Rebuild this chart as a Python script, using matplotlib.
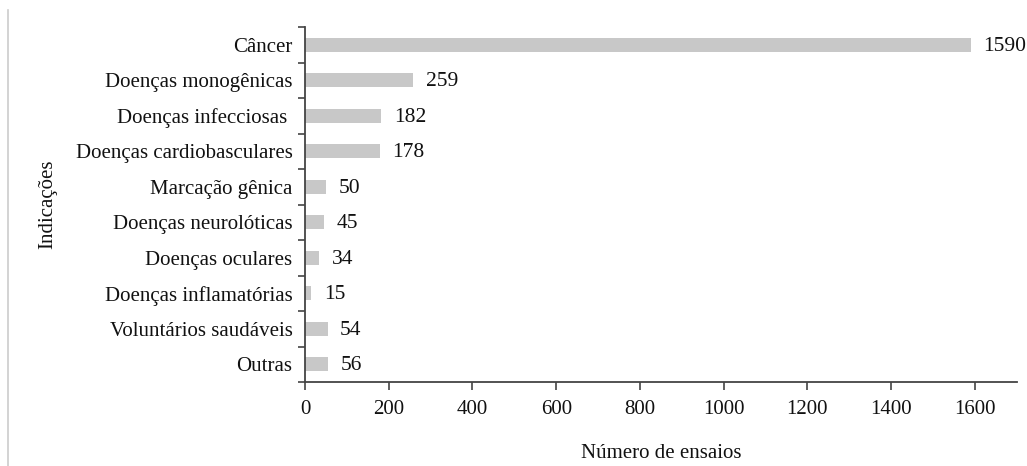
import matplotlib.pyplot as plt
import numpy as np
from matplotlib.lines import Line2D

# Data
indicacoes = ['Câncer', 'Doenças monogênicas', 'Doenças infecciosas ', 'Doenças cardiobasculares',
              'Marcação gênica', 'Doenças neurolóticas', 'Doenças oculares',
              'Doenças inflamatórias', 'Voluntários saudáveis', 'Outras']
ensaios = [1590, 259, 182, 178, 50, 45, 34, 15, 54, 56]
xticks = [0, 200, 400, 600, 800, 1000, 1200, 1400, 1600]

plt.rcParams['font.family'] = ['Liberation Serif', 'DejaVu Serif']
plt.rcParams['font.size'] = 15

fig = plt.figure(figsize=(10.27, 4.66), dpi=100)
ax = fig.add_axes([0.297, 0.180, 0.693, 0.762])

y = np.arange(len(indicacoes))
bars = ax.barh(y, ensaios, height=0.4, color='#c8c8c8')

for bar, v in zip(bars, ensaios):
    ax.annotate(str(v), xy=(bar.get_width(), bar.get_y() + bar.get_height() / 2),
                xytext=(9, -1), textcoords='offset points', ha='left', va='center',
                fontsize=15.5, color='#111111')

ax.set_xlim(0, 1700)
ax.set_ylim(len(indicacoes) - 0.5, -0.5)
ax.set_xticks(xticks)

# labels at bar centres, tick marks at category boundaries
ax.set_yticks(y)
ax.set_yticklabels(indicacoes)
ax.set_yticks(np.arange(len(indicacoes) + 1) - 0.5, minor=True)
ax.tick_params(axis='y', which='major', length=0, pad=9, colors='#111111')
ax.tick_params(axis='y', which='minor', length=5, width=1.2, color='#444444')
ax.tick_params(axis='x', length=6, width=1.2, color='#444444', pad=7, labelcolor='#111111')

for s in ['top', 'right']:
    ax.spines[s].set_visible(False)
for s in ['left', 'bottom']:
    ax.spines[s].set_color('#444444')
    ax.spines[s].set_linewidth(1.3)

ax.set_ylabel('Indicações', labelpad=13, color='#111111')
ax.set_xlabel('Número de ensaios', labelpad=18, color='#111111')

# thin page border on the left
fig.add_artist(Line2D([0.008, 0.008], [0.0, 0.979], color='#cccccc', lw=1.2))

plt.savefig('out.png', dpi=100)
